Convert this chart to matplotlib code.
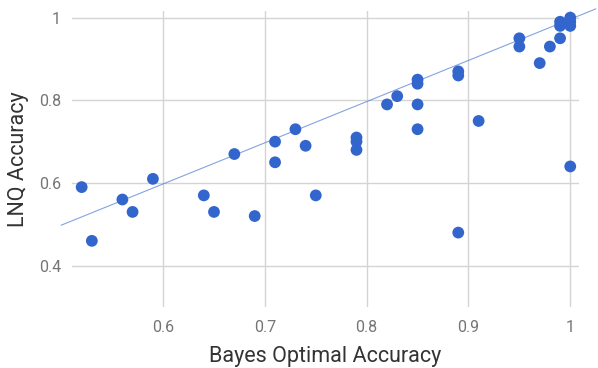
import matplotlib
matplotlib.use("Agg")
import matplotlib.pyplot as plt

bayes = [0.52, 0.53, 0.56, 0.57, 0.59, 0.64, 0.65, 0.67, 0.69, 0.71, 0.71, 0.73, 0.74, 0.75,
         0.79, 0.79, 0.79, 0.82, 0.83, 0.85, 0.85, 0.85, 0.85, 0.89, 0.89, 0.89, 0.91,
         0.95, 0.95, 0.97, 0.98, 0.99, 0.99, 0.99, 1.00, 1.00, 1.00, 1.00]
lnq = [0.59, 0.46, 0.56, 0.53, 0.61, 0.57, 0.53, 0.67, 0.52, 0.70, 0.65, 0.73, 0.69, 0.57,
       0.71, 0.70, 0.68, 0.79, 0.81, 0.85, 0.84, 0.79, 0.73, 0.87, 0.86, 0.48, 0.75,
       0.95, 0.93, 0.89, 0.93, 0.99, 0.98, 0.95, 1.00, 0.99, 0.98, 0.64]
trend_x = [0.50, 1.025]
trend_y = [0.498, 1.021]
x_ticks = [0.6, 0.7, 0.8, 0.9, 1.0]
x_labels = ["0.6", "0.7", "0.8", "0.9", "1"]
y_ticks = [0.4, 0.6, 0.8, 1.0]
y_labels = ["0.4", "0.6", "0.8", "1"]

plt.rcParams['font.family'] = ['Roboto', 'DejaVu Sans']
fig = plt.figure(figsize=(5.98, 3.68), dpi=100)
ax = fig.add_axes([72/598, 1-307/368, (579-72)/598, (307-11)/368])
ax.set_xlim(0.5105, 1.0086)
ax.set_ylim(0.30, 1.016)

ax.plot(trend_x, trend_y, color='#3366CC', alpha=0.6, lw=0.8, clip_on=False, zorder=2)
ax.scatter(bayes, lnq, s=72, color='#3366CC', edgecolors='none', zorder=3, clip_on=False)

ax.set_xticks(x_ticks)
ax.set_xticklabels(x_labels)
ax.set_yticks(y_ticks)
ax.set_yticklabels(y_labels)
ax.grid(True, color='#d4d4d4', lw=1.0, zorder=0)
ax.set_axisbelow(True)
for s in ax.spines.values():
    s.set_visible(False)
ax.tick_params(length=0, colors='#757575', labelsize=11.5, pad=8)
ax.tick_params(axis='x', pad=9)
ax.set_xlabel('Bayes Optimal Accuracy', fontsize=15.5, color='#333333', labelpad=8)
ax.set_ylabel('LNQ Accuracy', fontsize=15.5, color='#333333', labelpad=7)

fig.savefig('out.png', dpi=100)
